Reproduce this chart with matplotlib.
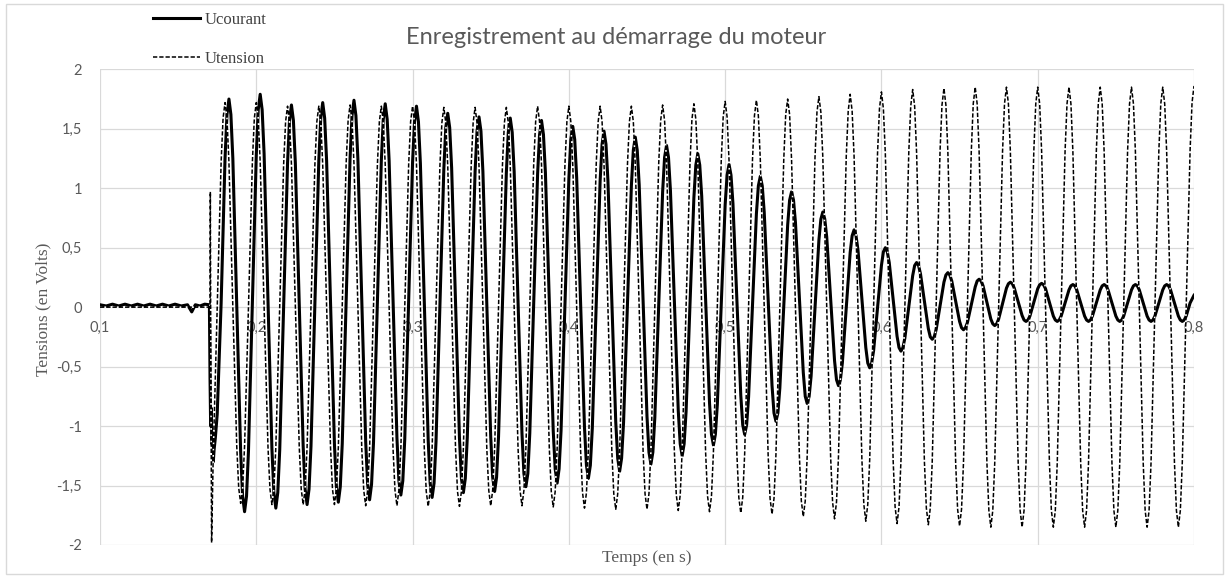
import numpy as np
import matplotlib
matplotlib.use("Agg")
import matplotlib.pyplot as plt
from matplotlib.patches import Rectangle

# ---------------- data ----------------
title = "Enregistrement au démarrage du moteur"
xlabel = "Temps (en s)"
ylabel = "Tensions (en Volts)"
series_names = ["Ucourant", "Utension"]

x_ticks = [0.1, 0.2, 0.3, 0.4, 0.5, 0.6, 0.7, 0.8]
x_tick_labels = ["0,1", "0,2", "0,3", "0,4", "0,5", "0,6", "0,7", "0,8"]
y_ticks = [-2, -1.5, -1, -0.5, 0, 0.5, 1, 1.5, 2]
y_tick_labels = ["-2", "-1,5", "-1", "-0,5", "0", "0,5", "1", "1,5", "2"]

period = 0.02  # s (50 Hz)
# sample instants inside one period, measured from the rising zero crossing
sample_offsets = [0.0, 0.0025, 0.00375, 0.005, 0.00625, 0.0075,
                  0.01, 0.0125, 0.01375, 0.015, 0.01625, 0.0175]

# Ucourant : start (baseline + switch-on transient)
t_courant_start = [0.100, 0.104, 0.108, 0.112, 0.116, 0.120, 0.124, 0.128, 0.132,
                   0.136, 0.140, 0.144, 0.148, 0.152, 0.156, 0.1587, 0.161, 0.164,
                   0.167, 0.1700, 0.1704, 0.1708, 0.1712, 0.1716, 0.1720, 0.1725,
                   0.1730, 0.1738, 0.1750]
u_courant_start = [0.02, 0.01, 0.025, 0.01, 0.025, 0.01, 0.025, 0.01, 0.025,
                   0.01, 0.025, 0.01, 0.025, 0.01, 0.02, -0.04, 0.02, 0.01,
                   0.025, 0.02, -0.6, -1.0, -0.85, -1.15, -1.05, -1.3,
                   -1.2, -1.1, -0.9]
# Ucourant : one row per period, first row starts at t = 0.1775 s
u_courant_rows = [
    [0.03, 1.25, 1.62, 1.75, 1.62, 1.25, 0.02, -1.22, -1.59, -1.72, -1.59, -1.21],
    [0.035, 1.28, 1.66, 1.79, 1.66, 1.29, 0.05, -1.19, -1.56, -1.69, -1.56, -1.20],
    [0.005, 1.21, 1.57, 1.70, 1.57, 1.21, 0.02, -1.17, -1.53, -1.66, -1.53, -1.17],
    [0.03, 1.23, 1.59, 1.72, 1.59, 1.23, 0.04, -1.15, -1.51, -1.64, -1.51, -1.15],
    [0.05, 1.25, 1.61, 1.74, 1.61, 1.25, 0.06, -1.13, -1.49, -1.62, -1.49, -1.14],
    [0.045, 1.23, 1.58, 1.71, 1.58, 1.23, 0.065, -1.10, -1.46, -1.58, -1.46, -1.11],
    [0.055, 1.22, 1.56, 1.69, 1.56, 1.21, 0.045, -1.12, -1.48, -1.60, -1.48, -1.13],
    [0.015, 1.16, 1.51, 1.63, 1.51, 1.17, 0.035, -1.10, -1.44, -1.56, -1.44, -1.10],
    [0.02, 1.14, 1.48, 1.60, 1.48, 1.14, 0.025, -1.09, -1.43, -1.55, -1.43, -1.09],
    [0.02, 1.13, 1.47, 1.59, 1.47, 1.14, 0.04, -1.06, -1.40, -1.51, -1.40, -1.06],
    [0.03, 1.12, 1.45, 1.57, 1.45, 1.13, 0.045, -1.04, -1.36, -1.48, -1.36, -1.04],
    [0.02, 1.08, 1.41, 1.52, 1.41, 1.09, 0.04, -1.01, -1.33, -1.44, -1.33, -1.02],
    [0.02, 1.06, 1.37, 1.48, 1.37, 1.065, 0.05, -0.965, -1.27, -1.38, -1.27, -0.97],
    [0.025, 1.02, 1.32, 1.43, 1.32, 1.03, 0.055, -0.92, -1.22, -1.32, -1.22, -0.93],
    [0.02, 0.97, 1.26, 1.36, 1.26, 0.98, 0.055, -0.87, -1.15, -1.25, -1.15, -0.88],
    [0.02, 0.92, 1.195, 1.29, 1.195, 0.935, 0.065, -0.805, -1.07, -1.16, -1.07, -0.82],
    [0.02, 0.86, 1.11, 1.20, 1.11, 0.87, 0.065, -0.74, -0.99, -1.07, -0.99, -0.755],
    [0.015, 0.785, 1.02, 1.10, 1.02, 0.80, 0.07, -0.66, -0.89, -0.96, -0.89, -0.68],
    [0.005, 0.69, 0.90, 0.97, 0.90, 0.71, 0.08, -0.55, -0.75, -0.81, -0.75, -0.58],
    [-0.005, 0.565, 0.74, 0.80, 0.74, 0.59, 0.07, -0.45, -0.61, -0.66, -0.61, -0.47],
    [-0.005, 0.46, 0.60, 0.65, 0.60, 0.48, 0.07, -0.34, -0.47, -0.51, -0.47, -0.365],
    [-0.005, 0.35, 0.465, 0.50, 0.465, 0.375, 0.065, -0.245, -0.34, -0.37, -0.34, -0.26],
    [0.0, 0.265, 0.35, 0.375, 0.35, 0.28, 0.05, -0.18, -0.25, -0.27, -0.25, -0.19],
    [0.01, 0.21, 0.27, 0.29, 0.27, 0.22, 0.05, -0.12, -0.173, -0.19, -0.173, -0.13],
    [0.02, 0.17, 0.22, 0.235, 0.22, 0.18, 0.04, -0.10, -0.14, -0.155, -0.14, -0.10],
    [0.03, 0.16, 0.197, 0.21, 0.197, 0.16, 0.045, -0.07, -0.108, -0.12, -0.108, -0.075],
    [0.04, 0.155, 0.188, 0.20, 0.188, 0.155, 0.04, -0.075, -0.108, -0.12, -0.108, -0.075],
    [0.035, 0.145, 0.179, 0.19, 0.179, 0.145, 0.035, -0.075, -0.108, -0.12, -0.108, -0.075],
    [0.035, 0.145, 0.179, 0.19, 0.179, 0.145, 0.035, -0.075, -0.108, -0.12, -0.108, -0.075],
    [0.035, 0.145, 0.179, 0.19, 0.179, 0.145, 0.035, -0.075, -0.108, -0.12, -0.108, -0.075],
    [0.035, 0.145, 0.179, 0.19, 0.179, 0.145, 0.035, -0.075, -0.108, -0.12, -0.108, -0.075],
    [0.035, 0.10],
]
t_courant_steady0 = 0.1775

# Utension : start (baseline + switch-on spikes)
t_tension_start = [0.100, 0.1300, 0.1500, 0.1704, 0.1706, 0.1708, 0.1714, 0.1725]
u_tension_start = [0.0, 0.0, 0.0, 0.0, 0.97, 0.0, -1.98, -1.22]
# Utension : one row per period, first row starts at t = 0.175 s
u_tension_rows = [
    [0, 1.22, 1.59, 1.72, 1.59, 1.22, 0, -1.17, -1.52, -1.65, -1.52, -1.17],
    [0, 1.22, 1.59, 1.72, 1.59, 1.22, 0, -1.18, -1.53, -1.66, -1.53, -1.18],
    [0, 1.20, 1.56, 1.69, 1.56, 1.20, 0, -1.18, -1.53, -1.66, -1.53, -1.18],
    [0, 1.20, 1.56, 1.69, 1.56, 1.20, 0, -1.18, -1.53, -1.66, -1.53, -1.18],
    [0, 1.21, 1.57, 1.70, 1.57, 1.21, 0, -1.19, -1.54, -1.67, -1.54, -1.19],
    [0, 1.20, 1.56, 1.69, 1.56, 1.20, 0, -1.19, -1.54, -1.67, -1.54, -1.19],
    [0, 1.20, 1.56, 1.69, 1.56, 1.20, 0, -1.19, -1.55, -1.675, -1.55, -1.19],
    [0, 1.19, 1.55, 1.68, 1.55, 1.19, 0, -1.19, -1.55, -1.675, -1.55, -1.19],
    [0, 1.19, 1.55, 1.68, 1.55, 1.19, 0, -1.19, -1.54, -1.67, -1.54, -1.19],
    [0, 1.19, 1.55, 1.68, 1.55, 1.19, 0, -1.19, -1.54, -1.67, -1.54, -1.19],
    [0, 1.20, 1.56, 1.69, 1.56, 1.20, 0, -1.19, -1.55, -1.68, -1.55, -1.19],
    [0, 1.20, 1.56, 1.69, 1.56, 1.20, 0, -1.20, -1.56, -1.69, -1.56, -1.20],
    [0, 1.20, 1.56, 1.69, 1.56, 1.20, 0, -1.21, -1.57, -1.70, -1.57, -1.21],
    [0, 1.20, 1.56, 1.69, 1.56, 1.20, 0, -1.21, -1.57, -1.70, -1.57, -1.21],
    [0, 1.21, 1.57, 1.70, 1.57, 1.21, 0, -1.21, -1.58, -1.71, -1.58, -1.21],
    [0, 1.21, 1.58, 1.71, 1.58, 1.21, 0, -1.22, -1.59, -1.72, -1.59, -1.22],
    [0, 1.23, 1.60, 1.73, 1.60, 1.23, 0, -1.23, -1.60, -1.73, -1.60, -1.23],
    [0, 1.24, 1.61, 1.74, 1.61, 1.24, 0, -1.24, -1.61, -1.74, -1.61, -1.24],
    [0, 1.24, 1.62, 1.75, 1.62, 1.24, 0, -1.25, -1.63, -1.76, -1.63, -1.25],
    [0, 1.26, 1.64, 1.77, 1.64, 1.26, 0, -1.26, -1.64, -1.78, -1.64, -1.26],
    [0, 1.27, 1.65, 1.79, 1.65, 1.27, 0, -1.28, -1.66, -1.80, -1.66, -1.28],
    [0, 1.29, 1.67, 1.81, 1.67, 1.29, 0, -1.29, -1.68, -1.82, -1.68, -1.29],
    [0, 1.30, 1.69, 1.83, 1.69, 1.30, 0, -1.30, -1.69, -1.83, -1.69, -1.30],
    [0, 1.31, 1.70, 1.84, 1.70, 1.31, 0, -1.31, -1.70, -1.84, -1.70, -1.31],
    [0, 1.31, 1.71, 1.85, 1.71, 1.31, 0, -1.31, -1.71, -1.85, -1.71, -1.31],
    [0, 1.31, 1.71, 1.85, 1.71, 1.31, 0, -1.31, -1.71, -1.85, -1.71, -1.31],
    [0, 1.31, 1.71, 1.85, 1.71, 1.31, 0, -1.31, -1.71, -1.85, -1.71, -1.31],
    [0, 1.31, 1.71, 1.85, 1.71, 1.31, 0, -1.31, -1.71, -1.85, -1.71, -1.31],
    [0, 1.31, 1.71, 1.85, 1.71, 1.31, 0, -1.31, -1.71, -1.85, -1.71, -1.31],
    [0, 1.31, 1.71, 1.85, 1.71, 1.31, 0, -1.31, -1.71, -1.85, -1.71, -1.31],
    [0, 1.31, 1.71, 1.85, 1.71, 1.31, 0, -1.31, -1.71, -1.85, -1.71, -1.31],
    [0, 1.32, 1.72, 1.86],
]
t_tension_steady0 = 0.175


# ---------------- assemble series ----------------
def build(t_start, v_start, t0, rows):
    ts, vs = list(t_start), list(v_start)
    offs = np.asarray(sample_offsets)
    for k, row in enumerate(rows):
        ts.extend(t0 + k * period + offs[:len(row)])
        vs.extend(row)
    return np.asarray(ts), np.asarray(vs)


t_c, v_c = build(t_courant_start, u_courant_start, t_courant_steady0, u_courant_rows)
t_t, v_t = build(t_tension_start, u_tension_start, t_tension_steady0, u_tension_rows)

# ---------------- figure ----------------
W, H = 1230, 578
fig = plt.figure(figsize=(W / 100, H / 100), dpi=100)
fig.patch.set_facecolor("white")

ax_l, ax_r, ax_t, ax_b = 100, 1194, 69.3, 545
ax = fig.add_axes([ax_l / W, 1 - ax_b / H, (ax_r - ax_l) / W, (ax_b - ax_t) / H])

grey_txt = "#595959"
grid_col = "#d9d9d9"

ax.set_xlim(x_ticks[0], x_ticks[-1])
ax.set_ylim(y_ticks[0], y_ticks[-1])
ax.set_xticks(x_ticks)
ax.set_yticks(y_ticks)
ax.set_yticklabels(y_tick_labels)
ax.tick_params(axis="x", length=0, labelbottom=False)
ax.tick_params(axis="y", length=0, pad=13, labelcolor=grey_txt, labelsize=10.5)
for lab in ax.get_yticklabels():
    lab.set_fontfamily("Lato")
ax.grid(True, color=grid_col, linewidth=0.9, zorder=0)
ax.set_axisbelow(True)
for s in ax.spines.values():
    s.set_visible(False)

# x tick labels just below the zero line (drawn under the curves)
for xv, xl in zip(x_ticks, x_tick_labels):
    ax.annotate(xl, xy=(xv, 0), xytext=(0, -21), textcoords="offset pixels",
                ha="center", va="center", color=grey_txt, fontsize=10.5,
                fontfamily="Lato", zorder=1, annotation_clip=False)

line_c, = ax.plot(t_c, v_c, color="black", linewidth=2.2, zorder=3,
                  solid_joinstyle="round", label=series_names[0])
line_t, = ax.plot(t_t, v_t, color="black", linewidth=1.1, linestyle=(0, (2.8, 1.3)),
                  gapcolor="white", zorder=4, label=series_names[1])

# title / axis labels
fig.text(616 / W, 1 - 38 / H, title, ha="center", va="center",
         fontsize=17, color=grey_txt, fontfamily="Lato")
fig.text(43 / W, 1 - 309 / H, ylabel, rotation=90, ha="center", va="center",
         fontsize=12.5, color=grey_txt, fontfamily="Liberation Serif")
fig.text(647 / W, 1 - 558 / H, xlabel, ha="center", va="center",
         fontsize=12.5, color=grey_txt, fontfamily="Liberation Serif")

# legend (top-left, outside the plot)
leg = fig.legend(handles=[line_c, line_t], loc="upper left",
                 bbox_to_anchor=(153 / W, 1 - 12 / H), frameon=False,
                 borderpad=0, borderaxespad=0, handlelength=2.8,
                 handletextpad=0.3, labelspacing=1.38,
                 prop={"family": "Liberation Serif", "size": 12})
for txt in leg.get_texts():
    txt.set_color("#404040")

# chart border
fig.add_artist(Rectangle((6 / W, 4 / H), (1223 - 6) / W, (574 - 4) / H,
                         transform=fig.transFigure, fill=False,
                         edgecolor=grid_col, linewidth=1.0))

fig.savefig("out.png", dpi=100, facecolor="white")
